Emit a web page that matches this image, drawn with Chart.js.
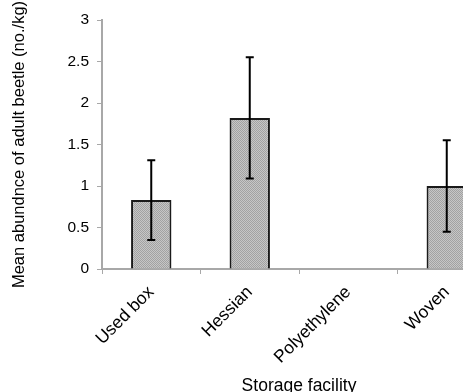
<!DOCTYPE html>
<html>
<head>
<meta charset="UTF-8">
<script src="https://cdn.jsdelivr.net/npm/chart.js"></script>
<style>
  html, body { margin: 0; padding: 0; background: #fff; overflow: hidden; }
  #wrap { position: absolute; left: 0; top: 0; width: 500px; height: 397px; }
</style>
</head>
<body>
<div id="wrap"><canvas id="c" width="500" height="397"></canvas></div>
<script>
// data
const categories = ['Used box', 'Hessian', 'Polyethylene', 'Woven'];
const means = [0.83, 1.82, 0, 1.0];
const errors = [0.48, 0.73, 0, 0.55];
const yTicks = [0, 0.5, 1, 1.5, 2, 2.5, 3];

// stippled grey fill like the original bars
function makePattern() {
  const p = document.createElement('canvas');
  p.width = 2; p.height = 2;
  const g = p.getContext('2d');
  g.fillStyle = '#c6c6c6'; g.fillRect(0, 0, 2, 2);
  g.fillStyle = '#a2a2a2'; g.fillRect(0, 0, 1, 1); g.fillRect(1, 1, 1, 1);
  return g.createPattern(p, 'repeat');
}

// error bars drawn through the scales
const errorBars = {
  id: 'errorBars',
  afterDatasetsDraw(chart) {
    const ctx = chart.ctx;
    const meta = chart.getDatasetMeta(0);
    const ys = chart.scales.y;
    ctx.save();
    ctx.strokeStyle = '#000';
    ctx.lineWidth = 2;
    meta.data.forEach((bar, i) => {
      if (!errors[i]) return;
      const x = bar.x;
      const top = ys.getPixelForValue(means[i] + errors[i]);
      const bot = ys.getPixelForValue(means[i] - errors[i]);
      ctx.beginPath();
      ctx.moveTo(x, top); ctx.lineTo(x, bot);
      ctx.moveTo(x - 4, top); ctx.lineTo(x + 4, top);
      ctx.moveTo(x - 4, bot); ctx.lineTo(x + 4, bot);
      ctx.stroke();
    });
    ctx.restore();
  }
};

const axisColor = '#a8a8a8';
const fam = 'Liberation Sans, Arial, sans-serif';

new Chart(document.getElementById('c'), {
  type: 'bar',
  data: {
    labels: categories,
    datasets: [{
      data: means,
      backgroundColor: makePattern(),
      borderColor: '#1a1a1a',
      borderWidth: 2,
      barPercentage: 1,
      categoryPercentage: 0.41
    }]
  },
  options: {
    responsive: false,
    animation: false,
    layout: { padding: { top: 20, right: 4, left: 0, bottom: 0 } },
    plugins: { legend: { display: false }, tooltip: { enabled: false } },
    scales: {
      x: {
        grid: { display: true, drawOnChartArea: false, color: axisColor, tickLength: 5, offset: true },
        border: { color: axisColor, width: 2 },
        ticks: { color: '#000', font: { family: fam, size: 17.5 }, minRotation: 45, maxRotation: 45, padding: 8 },
        title: { display: true, text: 'Storage facility', color: '#000', font: { family: fam, size: 17.5 }, padding: { top: 0, bottom: 0 } },
        afterFit(s) { s.height = 128; }
      },
      y: {
        min: 0, max: 3,
        afterBuildTicks(s) { s.ticks = yTicks.map(v => ({ value: v })); },
        grid: { display: true, drawOnChartArea: false, color: axisColor, tickLength: 5 },
        border: { color: axisColor, width: 2 },
        ticks: { color: '#000', font: { family: fam, size: 15.5 }, padding: 8, callback: v => String(v) },
        title: { display: true, text: 'Mean abundnce of adult beetle (no./kg)', color: '#000',
                 font: { family: fam, size: 16.5 }, padding: { top: 10, bottom: 4 } },
        afterFit(s) { s.width = 102; }
      }
    }
  },
  plugins: [errorBars]
});
</script>
</body>
</html>
